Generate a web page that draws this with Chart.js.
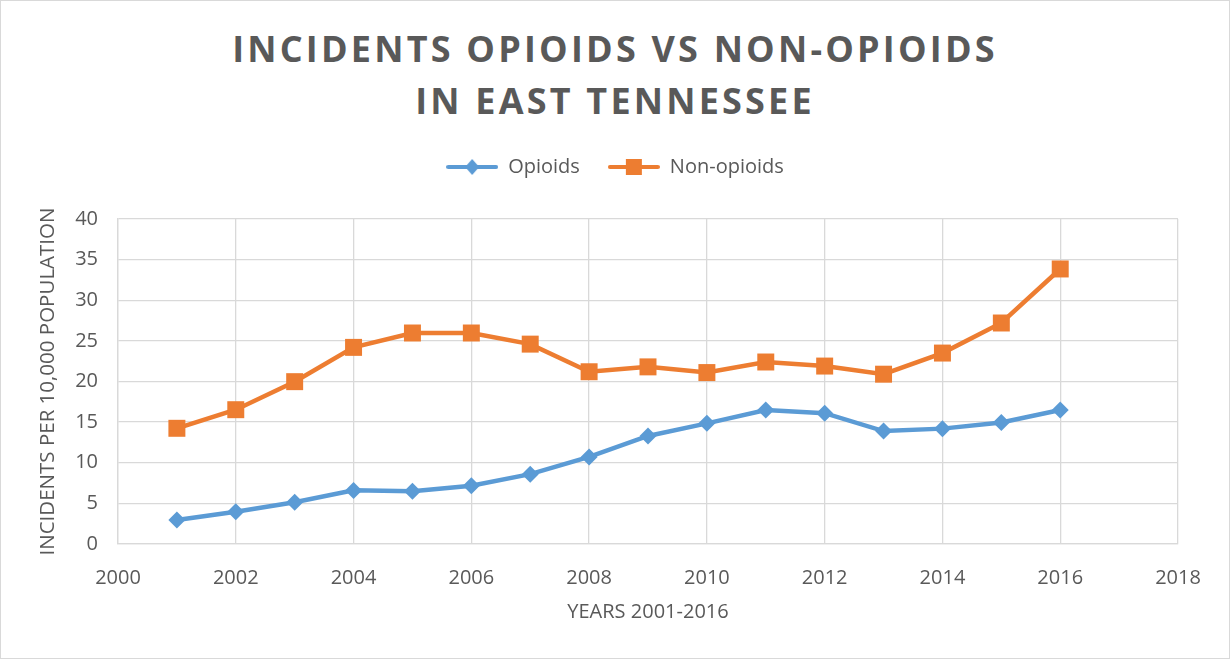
<!DOCTYPE html>
<html lang="en">
<head>
    <meta charset="UTF-8">
    <title>Incidents Opioids vs Non-Opioids</title>
    <script src="https://cdn.jsdelivr.net/npm/chart.js"></script>
    <style>
        body {
            margin: 0;
            background: #ffffff;
            font-family: "Open Sans", Arial, sans-serif;
        }
        .wrap {
            position: relative;
            width: 1230px;
            height: 659px;
            overflow: hidden;
        }
        .frame {
            position: absolute;
            left: 0; top: 0;
            width: 1230px; height: 659px;
            box-sizing: border-box;
            border: 1px solid #d9d9d9;
            pointer-events: none;
        }
        .title {
            position: absolute;
            left: 0; top: 23px;
            width: 1230px;
            text-align: center;
            color: #595959;
            font-weight: 700;
            font-size: 36px;
            line-height: 52px;
            letter-spacing: 3.2px;
        }
        .chart-box {
            position: absolute;
            left: 0; top: 117px;
            width: 1230px; height: 542px;
        }
    </style>
</head>
<body>
    <div class="wrap">
        <div class="title">INCIDENTS OPIOIDS VS NON-OPIOIDS<br>IN EAST TENNESSEE</div>
        <div class="chart-box">
            <canvas id="lineChart"></canvas>
        </div>
        <div class="frame"></div>
    </div>

    <script>
        const years = [2001, 2002, 2003, 2004, 2005, 2006, 2007, 2008, 2009, 2010, 2011, 2012, 2013, 2014, 2015, 2016];
        const opioids = [2.95, 3.98, 5.13, 6.6, 6.48, 7.18, 8.6, 10.72, 13.3, 14.85, 16.5, 16.1, 13.9, 14.2, 14.95, 16.5];
        const nonOpioids = [14.24, 16.53, 19.98, 24.2, 25.97, 25.97, 24.6, 21.2, 21.8, 21.1, 22.4, 21.9, 20.9, 23.5, 27.2, 33.85];

        const blue = "#5B9BD5";
        const orange = "#ED7D31";
        const textGray = "#595959";

        // little line+marker icons for the legend, excel style
        function legendIcon(color, marker) {
            let c = document.createElement("canvas");
            c.width = 52; c.height = 20;
            let ctx = c.getContext("2d");
            ctx.strokeStyle = color;
            ctx.lineWidth = 4;
            ctx.lineCap = "round";
            ctx.beginPath();
            ctx.moveTo(2, 10); ctx.lineTo(50, 10);
            ctx.stroke();
            ctx.fillStyle = color;
            ctx.beginPath();
            if (marker === "diamond") {
                ctx.moveTo(26, 2); ctx.lineTo(33, 10); ctx.lineTo(26, 18); ctx.lineTo(19, 10);
            } else {
                ctx.rect(18, 2, 16, 16);
            }
            ctx.fill();
            return c;
        }
        const icons = [legendIcon(blue, "diamond"), legendIcon(orange, "square")];

        // legend: centre it on the whole canvas and leave a bigger gap under it
        const legendTweak = {
            id: "legendTweak",
            beforeLayout(chart) {
                let lg = chart.legend;
                if (lg && !lg._tweaked) {
                    let fit = lg.fit.bind(lg);
                    lg.fit = function () { fit(); this.height += 32; };
                    lg._tweaked = true;
                }
            },
            afterLayout(chart) {
                let lg = chart.legend;
                if (lg) {
                    lg.left = 0;
                    lg.right = chart.width;
                    lg.width = chart.width;
                }
            }
        };

        new Chart(document.getElementById("lineChart"), {
            type: "line",
            data: {
                datasets: [{
                    label: "Opioids",
                    data: years.map((y, i) => ({ x: y, y: opioids[i] })),
                    borderColor: blue,
                    backgroundColor: blue,
                    borderWidth: 4.5,
                    pointStyle: "rectRot",
                    pointRadius: 8.5,
                    pointBorderWidth: 0,
                    fill: false
                }, {
                    label: "Non-opioids",
                    data: years.map((y, i) => ({ x: y, y: nonOpioids[i] })),
                    borderColor: orange,
                    backgroundColor: orange,
                    borderWidth: 4.5,
                    pointStyle: "rect",
                    pointRadius: 12,
                    pointBorderWidth: 0,
                    fill: false
                }]
            },
            plugins: [legendTweak],
            options: {
                responsive: true,
                maintainAspectRatio: false,
                animation: false,
                layout: { padding: { left: 0, right: 52, top: 12, bottom: 25 } },
                plugins: {
                    tooltip: { enabled: false },
                    legend: {
                        position: "top",
                        labels: {
                            color: textGray,
                            font: { family: "Open Sans", size: 20 },
                            usePointStyle: true,
                            pointStyleWidth: 52,
                            padding: 28,
                            generateLabels: chart => chart.data.datasets.map((ds, i) => ({
                                text: ds.label,
                                pointStyle: icons[i],
                                fontColor: textGray,
                                datasetIndex: i,
                                hidden: false,
                                lineWidth: 0
                            }))
                        }
                    }
                },
                scales: {
                    x: {
                        type: "linear",
                        min: 2000,
                        max: 2018,
                        grid: { color: "#d9d9d9", lineWidth: 1.3, drawTicks: false },
                        border: { color: "#d9d9d9", width: 1.3 },
                        ticks: {
                            stepSize: 2,
                            color: textGray,
                            padding: 22,
                            font: { family: "Open Sans", size: 20 },
                            callback: v => String(v)
                        },
                        title: {
                            display: true,
                            text: "YEARS 2001-2016",
                            color: textGray,
                            font: { family: "Open Sans", size: 20 },
                            padding: { top: 4, bottom: 10 }
                        },
                        afterFit: scale => { scale.height = 90; }
                    },
                    y: {
                        min: 0,
                        max: 40,
                        grid: { color: "#d9d9d9", lineWidth: 1.3, drawTicks: false },
                        border: { color: "#d9d9d9", width: 1.3 },
                        ticks: {
                            stepSize: 5,
                            color: textGray,
                            padding: 20,
                            font: { family: "Open Sans", size: 20 }
                        },
                        title: {
                            display: true,
                            text: "INCIDENTS PER 10,000 POPULATION",
                            color: textGray,
                            font: { family: "Open Sans", size: 20.5 },
                            padding: { top: 36, bottom: 4 }
                        },
                        afterFit: scale => { scale.width = 118; }
                    }
                }
            }
        });
    </script>
</body>
</html>
